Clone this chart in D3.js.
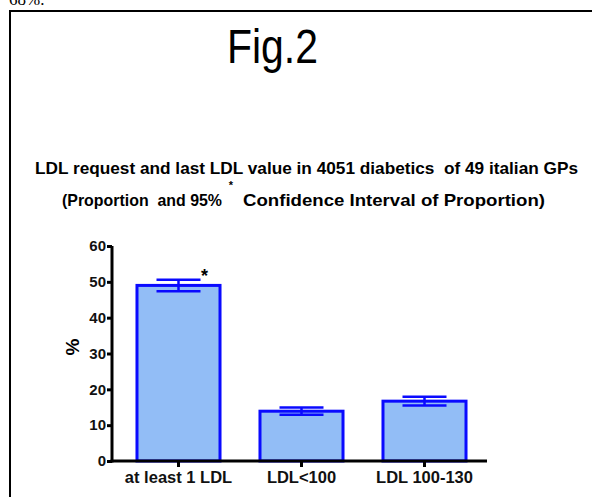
<!DOCTYPE html>
<html>
<head>
<meta charset="utf-8">
<script src="https://cdn.jsdelivr.net/npm/d3@7"></script>
<style>
  body { margin: 0; background: #fff; }
  svg { display: block; }
  text { font-family: "Liberation Sans", Arial, sans-serif; }
</style>
</head>
<body>
<div id="canvas"></div>
<script>
var categories = ["at least 1 LDL", "LDL<100", "LDL 100-130"];
var values = [49.0, 13.9, 16.7];
var ciLow = [47.4, 12.9, 15.5];
var ciHigh = [50.6, 14.9, 17.9];
var yTicks = [0, 10, 20, 30, 40, 50, 60];

var svg = d3.select("#canvas").append("svg")
    .attr("width", 592)
    .attr("height", 497);

// text cut off above the frame (only its lower edge shows)
svg.append("text")
    .attr("x", 9)
    .attr("y", 5)
    .style("font-family", "'Liberation Serif', serif")
    .style("font-size", "17px")
    .text("68%.");

svg.append("rect")
    .attr("x", 10)
    .attr("y", 11)
    .attr("width", 620)
    .attr("height", 520)
    .attr("fill", "none")
    .attr("stroke", "black")
    .attr("stroke-width", 2);

svg.append("text")
    .attr("x", 227)
    .attr("y", 63)
    .attr("textLength", 91)
    .attr("lengthAdjust", "spacingAndGlyphs")
    .style("font-size", "48px")
    .text("Fig.2");

svg.append("text")
    .attr("x", 35)
    .attr("y", 174)
    .attr("textLength", 543)
    .attr("lengthAdjust", "spacingAndGlyphs")
    .style("font-size", "17px")
    .style("font-weight", "bold")
    .style("white-space", "pre")
    .text("LDL request and last LDL value in 4051 diabetics  of 49 italian GPs");

svg.append("text")
    .attr("x", 62)
    .attr("y", 206)
    .attr("textLength", 160)
    .attr("lengthAdjust", "spacingAndGlyphs")
    .style("font-size", "17px")
    .style("font-weight", "bold")
    .style("white-space", "pre")
    .text("(Proportion  and 95%");
svg.append("text")
    .attr("x", 231)
    .attr("y", 189)
    .attr("text-anchor", "middle")
    .style("font-size", "11px")
    .style("font-weight", "bold")
    .text("*");
svg.append("text")
    .attr("x", 243)
    .attr("y", 206)
    .attr("textLength", 302)
    .attr("lengthAdjust", "spacingAndGlyphs")
    .style("font-size", "17px")
    .style("font-weight", "bold")
    .text("Confidence Interval of Proportion)");

var x = d3.scaleBand()
    .domain(categories)
    .range([117, 486])
    .paddingInner(0.325)
    .paddingOuter(0.1625);

var y = d3.scaleLinear()
    .domain([0, 60])
    .range([461, 246]);

var g = svg.append("g");

g.selectAll("rect.bar").data(values).enter().append("rect")
    .attr("class", "bar")
    .attr("x", function (d, i) { return x(categories[i]); })
    .attr("y", function (d) { return y(d); })
    .attr("width", x.bandwidth())
    .attr("height", function (d) { return y(0) - y(d); })
    .attr("fill", "#92bdf6")
    .attr("stroke", "#0a0aff")
    .attr("stroke-width", 3);

var capW = 22;
var err = g.selectAll("g.err").data(values).enter().append("g").attr("class", "err");
err.append("line")
    .attr("x1", function (d, i) { return x(categories[i]) + x.bandwidth() / 2; })
    .attr("x2", function (d, i) { return x(categories[i]) + x.bandwidth() / 2; })
    .attr("y1", function (d, i) { return y(ciLow[i]); })
    .attr("y2", function (d, i) { return y(ciHigh[i]); });
err.append("line")
    .attr("x1", function (d, i) { return x(categories[i]) + x.bandwidth() / 2 - capW; })
    .attr("x2", function (d, i) { return x(categories[i]) + x.bandwidth() / 2 + capW; })
    .attr("y1", function (d, i) { return y(ciHigh[i]); })
    .attr("y2", function (d, i) { return y(ciHigh[i]); });
err.append("line")
    .attr("x1", function (d, i) { return x(categories[i]) + x.bandwidth() / 2 - capW; })
    .attr("x2", function (d, i) { return x(categories[i]) + x.bandwidth() / 2 + capW; })
    .attr("y1", function (d, i) { return y(ciLow[i]); })
    .attr("y2", function (d, i) { return y(ciLow[i]); });
err.selectAll("line")
    .attr("stroke", "#0a0aff")
    .attr("stroke-width", 2.5);

// significance mark on first bar
g.append("text")
    .attr("x", x(categories[0]) + x.bandwidth() / 2 + 26)
    .attr("y", y(ciHigh[0]) + 2)
    .attr("text-anchor", "middle")
    .style("font-size", "18px")
    .style("font-weight", "bold")
    .text("*");

// axes
var yAxis = svg.append("g")
    .attr("transform", "translate(112,0)")
    .call(d3.axisLeft(y).tickValues(yTicks).tickSize(5).tickPadding(1).tickSizeOuter(0));
yAxis.select(".domain").attr("stroke-width", 3).attr("d", "M0," + (y(0) + 1.5) + "V" + y(60));
yAxis.selectAll(".tick line").attr("stroke-width", 3);
yAxis.selectAll(".tick text")
    .style("font-family", "'Liberation Sans', Arial, sans-serif")
    .style("font-size", "15px")
    .style("font-weight", "bold")
    .attr("fill", "#111");

var xAxis = svg.append("g")
    .attr("transform", "translate(0,461)")
    .call(d3.axisBottom(x).tickSize(6).tickPadding(4).tickSizeOuter(0));
xAxis.select(".domain").attr("stroke-width", 3).attr("d", "M110.5,0H487");
xAxis.selectAll(".tick line").attr("stroke-width", 3);
xAxis.selectAll(".tick text")
    .style("font-family", "'Liberation Sans', Arial, sans-serif")
    .style("font-size", "16.5px")
    .style("font-weight", "bold")
    .attr("fill", "#111");

svg.append("text")
    .attr("transform", "translate(79,347) rotate(-90)")
    .attr("text-anchor", "middle")
    .style("font-size", "19px")
    .style("font-weight", "bold")
    .text("%");
</script>
</body>
</html>
